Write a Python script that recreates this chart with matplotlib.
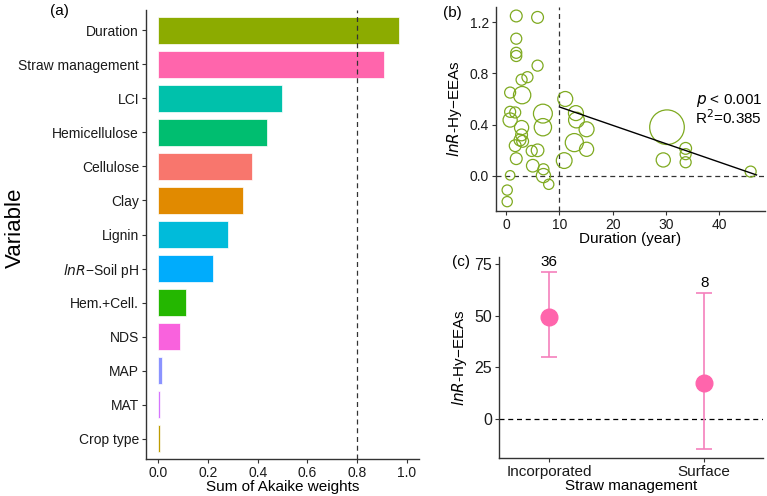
import matplotlib.pyplot as plt

plt.rcParams['font.family'] = ['Liberation Sans', 'DejaVu Sans']

# panel (a): importance of predictors
variables = ["Duration", "Straw management", "LCI", "Hemicellulose", "Cellulose",
             "Clay", "Lignin", "$\\it{lnR}$\u2212Soil pH", "Hem.+Cell.", "NDS",
             "MAP", "MAT", "Crop type"]
weights = [0.969, 0.909, 0.499, 0.437, 0.377, 0.339, 0.281, 0.219, 0.112, 0.085,
           0.015, 0.008, 0.005]
bar_colors = ["#8CAB00", "#FF65AC", "#00C1AB", "#00BE70", "#F8766D", "#E18A00",
              "#00BBDA", "#00ACFC", "#24B700", "#F962DD", "#8B93FF", "#D575FE",
              "#BE9C00"]

# panel (b): effect size vs duration (w = study weight, drawn as circle size)
dur = [1.9, 5.9, 1.9, 1.9, 1.9, 5.9, 4.0, 2.9, 0.75, 3.0, 0.75, 1.7, 0.75, 6.9,
       6.9, 2.9, 2.9, 2.6, 3.1, 1.7, 4.8, 5.9, 1.9, 5.0, 7.0, 7.0, 0.75, 8.0,
       0.2, 0.2, 11.1, 13.1, 13.2, 15.1, 12.8, 15.1, 10.9, 30.2, 29.5, 33.7,
       33.7, 33.7, 45.9]
eff = [1.247, 1.236, 1.07, 0.96, 0.935, 0.86, 0.77, 0.75, 0.65, 0.63, 0.50, 0.495,
       0.436, 0.486, 0.38, 0.377, 0.32, 0.28, 0.27, 0.236, 0.195, 0.20, 0.135,
       0.08, 0.052, 0.003, 0.005, -0.065, -0.11, -0.20, 0.60, 0.49, 0.436, 0.364,
       0.26, 0.208, 0.12, 0.38, 0.125, 0.215, 0.17, 0.107, 0.034]
w = [15, 15, 14, 14, 14, 14, 14, 14, 14, 22, 14, 14, 18, 24, 22, 18, 15, 15, 15,
     15, 14, 16, 15, 16, 14, 18, 12, 13, 13, 13, 19, 19, 20, 19, 23, 18, 20, 44,
     18, 15, 14, 14, 14]
fit_x = [10, 47]
fit_y = [0.538, 0.008]

# panel (c): straw management
mgmt = ["Incorporated", "Surface"]
mgmt_mean = [49.4, 17.3]
mgmt_lo = [30.2, -14.4]
mgmt_hi = [71.3, 60.8]
mgmt_n = ["36", "8"]

fig = plt.figure(figsize=(7.67, 4.96), dpi=100)
ax_a = fig.add_axes([0.1904, 0.0746, 0.3559, 0.9052])
ax_b = fig.add_axes([0.6467, 0.5746, 0.3507, 0.4113])
ax_c = fig.add_axes([0.6506, 0.0766, 0.3442, 0.4053])

axis_col = "#333333"
for ax in (ax_a, ax_b, ax_c):
    for s in ("top", "right"):
        ax.spines[s].set_visible(False)
    for s in ("left", "bottom"):
        ax.spines[s].set_color(axis_col)
        ax.spines[s].set_linewidth(1.0)
    ax.tick_params(colors=axis_col, labelcolor="#1a1a1a", length=3, width=0.8,
                   labelsize=10, pad=2)

# (a)
pos = list(range(len(variables), 0, -1))
ax_a.barh(pos, weights, height=0.8, color=bar_colors, edgecolor="white",
          linewidth=0.5)
ax_a.axvline(0.8, color="#333333", ls=(0, (4, 3)), lw=0.9)
ax_a.set_yticks(pos)
ax_a.set_yticklabels(variables)
ax_a.set_ylim(0.4, len(variables) + 0.6)
ax_a.set_xlim(-0.05, 1.05)
ax_a.set_xticks([0.0, 0.2, 0.4, 0.6, 0.8, 1.0])
ax_a.set_xticklabels(["0.0", "0.2", "0.4", "0.6", "0.8", "1.0"])
ax_a.set_xlabel("Sum of Akaike weights", fontsize=11, labelpad=0)
fig.text(15 / 767, 1 - 228 / 496, "Variable", fontsize=16, rotation=90,
         ha="center", va="center")
fig.text(0.078, 0.978, "(a)", fontsize=11, ha="center", va="center")

# (b)
sizes = [(2 * r / 3 * 0.72 * 1.18) ** 2 for r in w]
ax_b.scatter(dur, eff, s=sizes, facecolors="none", edgecolors="#7FAA20",
             linewidths=0.9, zorder=3)
ax_b.plot(fit_x, fit_y, color="black", lw=1.0, zorder=4)
ax_b.axvline(10, color="#333333", ls=(0, (4, 3)), lw=0.9)
ax_b.axhline(0, color="#333333", ls=(0, (4, 3)), lw=0.9)
ax_b.set_xlim(-1.9, 48.6)
ax_b.set_ylim(-0.273, 1.317)
ax_b.set_xticks([0, 10, 20, 30, 40])
ax_b.set_yticks([0.0, 0.4, 0.8, 1.2])
ax_b.set_yticklabels(["0.0", "0.4", "0.8", "1.2"])
ax_b.set_xlabel("Duration (year)", fontsize=11, labelpad=0)
ax_b.set_ylabel("$\\it{lnR}$-Hy\u2212EEAs", fontsize=11, labelpad=4)
ax_b.text(0.989, 0.544, "$\\it{p}$ < 0.001", transform=ax_b.transAxes,
          ha="right", va="center", fontsize=11)
ax_b.text(0.989, 0.456, "R$^2$=0.385", transform=ax_b.transAxes,
          ha="right", va="center", fontsize=11)
fig.text(0.590, 0.973, "(b)", fontsize=11, ha="center", va="center")

# (c)
xc = [1, 2]
yerr = [[m - lo for m, lo in zip(mgmt_mean, mgmt_lo)],
        [hi - m for m, hi in zip(mgmt_mean, mgmt_hi)]]
ax_c.errorbar(xc, mgmt_mean, yerr=yerr, fmt="none", ecolor="#F580BC",
              elinewidth=1.2, capsize=6, capthick=1.2, zorder=3)
ax_c.plot(xc, mgmt_mean, "o", color="#FF65AC", markersize=12, zorder=4)
for x, hi, n in zip(xc, mgmt_hi, mgmt_n):
    ax_c.text(x, hi + 1.5, n, ha="center", va="bottom", fontsize=11)
ax_c.axhline(0, color="black", ls=(0, (4, 3)), lw=0.9)
ax_c.set_xlim(0.675, 2.38)
ax_c.set_ylim(-18.9, 78.4)
ax_c.set_xticks(xc)
ax_c.set_xticklabels(mgmt, fontsize=11)
ax_c.set_yticks([0, 25, 50, 75])
ax_c.tick_params(axis="y", labelsize=11.5)
ax_c.set_xlabel("Straw management", fontsize=11, labelpad=0)
ax_c.set_ylabel("$\\it{lnR}$-Hy\u2212EEAs", fontsize=11, labelpad=4)
fig.text(0.601, 0.472, "(c)", fontsize=11, ha="center", va="center")

fig.savefig("out.png", dpi=100)
